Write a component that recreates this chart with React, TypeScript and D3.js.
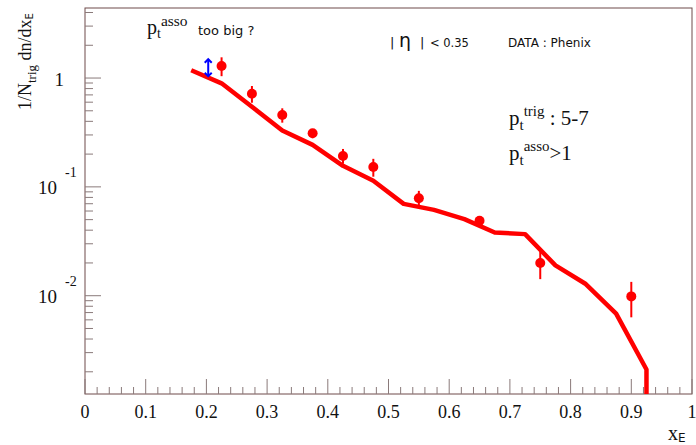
import {useEffect, useRef} from "react";
import * as d3 from "d3";

// data points (Phenix)
const pointX = [0.225, 0.275, 0.325, 0.375, 0.425, 0.475, 0.55, 0.65, 0.75, 0.9];
const pointY = [1.29, 0.718, 0.458, 0.311, 0.192, 0.152, 0.0787, 0.0488, 0.0200, 0.00986];
const errHigh = [1.55, 0.845, 0.527, 0.34, 0.223, 0.181, 0.0919, 0.054, 0.0254, 0.0134];
const errLow = [1.04, 0.593, 0.389, 0.28, 0.163, 0.124, 0.067, 0.044, 0.0142, 0.00633];

// model curve
const curveX = [0.175, 0.225, 0.275, 0.325, 0.375, 0.425, 0.475, 0.525, 0.575, 0.625, 0.675, 0.725, 0.775, 0.825, 0.875, 0.925, 0.925];
const curveY = [1.18, 0.894, 0.545, 0.329, 0.243, 0.156, 0.114, 0.0698, 0.0615, 0.0506, 0.0381, 0.0368, 0.0190, 0.0128, 0.00684, 0.0021, 0.0005];

// blue arrow
const arrowX = 0.203;
const arrowTop = 1.49;
const arrowBottom = 1.04;

const xTickLabels = ["0", "0.1", "0.2", "0.3", "0.4", "0.5", "0.6", "0.7", "0.8", "0.9", "1"];
const yDecades = [1, 0.1, 0.01];
const yDecadeLabels = [{base: "1", exp: ""}, {base: "10", exp: "-1"}, {base: "10", exp: "-2"}];

const SERIF = "'Liberation Serif', 'Times New Roman', serif";
const SANS = "'DejaVu Sans', sans-serif";

export default function App() {
    const svgRef = useRef<SVGSVGElement>(null);

    useEffect(() => {
        if (!svgRef.current) return;
        const svg = d3.select(svgRef.current);
        svg.selectAll("*").remove();

        const left = 85, right = 692, top = 8, bottom = 394;
        const x = d3.scaleLinear().domain([0, 1]).range([left, right]);
        const y = d3.scaleLog().domain([0.00125, 4.4]).range([bottom, top]);

        svg.append("defs").append("clipPath").attr("id", "plotclip")
            .append("rect").attr("x", left).attr("y", top).attr("width", right - left).attr("height", bottom - top);

        // frame
        svg.append("rect").attr("x", left).attr("y", top).attr("width", right - left).attr("height", bottom - top)
            .attr("fill", "none").attr("stroke", "#6e4a4a").attr("stroke-width", 1);

        // x ticks
        const tickCol = "#8a7a7a";
        d3.range(0, 1.0001, 0.02).forEach((v, i) => {
            const major = i % 5 === 0;
            svg.append("line").attr("x1", x(v)).attr("x2", x(v)).attr("y1", bottom).attr("y2", bottom - (major ? 15 : 7))
                .attr("stroke", tickCol).attr("stroke-width", 1);
        });
        xTickLabels.forEach((t, i) => {
            svg.append("text").attr("x", x(i / 10)).attr("y", 418).attr("text-anchor", "middle")
                .style("font-family", SERIF).style("font-size", "18px").attr("fill", "#111").text(t);
        });

        // y ticks
        const [ymin, ymax] = y.domain();
        [0.001, 0.01, 0.1, 1].forEach(d => {
            for (let k = 1; k <= 9; k++) {
                const v = k * d;
                if (v < ymin || v > ymax) continue;
                svg.append("line").attr("x1", left).attr("x2", left + (k === 1 ? 16 : 8)).attr("y1", y(v)).attr("y2", y(v))
                    .attr("stroke", tickCol).attr("stroke-width", 1);
            }
        });
        yDecades.forEach((v, i) => {
            const lab = yDecadeLabels[i];
            const t = svg.append("text").style("font-family", SERIF).attr("fill", "#111");
            if (lab.exp) {
                t.attr("x", 57).attr("y", y(v) + 7).attr("text-anchor", "end").style("font-size", "19px").text(lab.base);
                svg.append("text").attr("x", 65).attr("y", y(v) - 10).style("font-family", SERIF).style("font-size", "14px")
                    .attr("fill", "#111").text(lab.exp);
            } else {
                t.attr("x", 64).attr("y", y(v) + 8).attr("text-anchor", "end").style("font-size", "19px").text(lab.base);
            }
        });

        // axis titles
        const xt = svg.append("text").attr("x", 668).attr("y", 440).style("font-family", SERIF).style("font-size", "20px").attr("fill", "#111");
        xt.append("tspan").text("x");
        xt.append("tspan").attr("dy", 2).style("font-family", SANS).style("font-size", "12px").text("E");

        const yt = svg.append("text").attr("transform", "translate(31,110) rotate(-90)")
            .style("font-family", SERIF).style("font-size", "18px").attr("fill", "#111");
        yt.append("tspan").text("1/N");
        yt.append("tspan").attr("dy", 5).style("font-size", "13px").text("trig");
        yt.append("tspan").attr("dy", -5).text(" dn/dx");
        yt.append("tspan").attr("dy", 2).style("font-family", SANS).style("font-size", "10px").text("E");

        // curve
        const line = d3.line<number>().x((d, i) => x(curveX[i])).y(d => y(Math.max(d, 0.0005)));
        svg.append("path").datum(curveY).attr("d", line).attr("clip-path", "url(#plotclip)")
            .attr("fill", "none").attr("stroke", "#ff0000").attr("stroke-width", 4.5).attr("stroke-linejoin", "round");

        // error bars and points
        pointX.forEach((px, i) => {
            svg.append("line").attr("x1", x(px)).attr("x2", x(px)).attr("y1", y(errLow[i])).attr("y2", y(errHigh[i]))
                .attr("stroke", "#ff0000").attr("stroke-width", 2);
            svg.append("circle").attr("cx", x(px)).attr("cy", y(pointY[i])).attr("r", 5).attr("fill", "#ff0000");
        });

        // blue arrow
        const ax = x(arrowX), a1 = y(arrowTop), a2 = y(arrowBottom);
        const blue = svg.append("g").attr("stroke", "#0000ff").attr("stroke-width", 2).attr("fill", "none");
        blue.append("line").attr("x1", ax).attr("x2", ax).attr("y1", a1).attr("y2", a2);
        blue.append("path").attr("d", `M${ax - 3.5},${a1 + 3.5}L${ax},${a1}L${ax + 3.5},${a1 + 3.5}`);
        blue.append("path").attr("d", `M${ax - 3.5},${a2 - 3.5}L${ax},${a2}L${ax + 3.5},${a2 - 3.5}`);

        // annotations
        const t1 = svg.append("text").attr("x", 147).attr("y", 34).style("font-family", SERIF).style("font-size", "20px").attr("fill", "#111");
        t1.append("tspan").text("p");
        t1.append("tspan").attr("dy", 4).style("font-size", "14px").text("t");
        t1.append("tspan").attr("dy", -12).style("font-size", "15.5px").text("asso");
        svg.append("text").attr("x", 198).attr("y", 35).style("font-family", SANS).style("font-size", "13px").attr("fill", "#111").text("too big ?");

        svg.append("text").attr("x", 390).attr("y", 47).style("font-family", SANS).style("font-size", "13px").attr("fill", "#111").text("|");
        svg.append("text").attr("x", 399).attr("y", 47).style("font-family", SANS).style("font-size", "19px").attr("fill", "#111").text("η");
        svg.append("text").attr("x", 420).attr("y", 47).style("font-family", SANS).style("font-size", "13px").attr("fill", "#111").text("|");
        svg.append("text").attr("x", 430).attr("y", 47).style("font-family", SANS).style("font-size", "11.5px").attr("fill", "#111").text("< 0.35");
        svg.append("text").attr("x", 508).attr("y", 47).style("font-family", SANS).style("font-size", "12px").attr("fill", "#111").text("DATA : Phenix");

        const t2 = svg.append("text").attr("x", 509).attr("y", 125).style("font-family", SERIF).style("font-size", "21px").attr("fill", "#111");
        t2.append("tspan").text("p");
        t2.append("tspan").attr("dy", 5).style("font-size", "15px").text("t");
        t2.append("tspan").attr("dy", -14).style("font-size", "15px").text("trig");
        t2.append("tspan").attr("dy", 9).text(" : 5-7");

        const t3 = svg.append("text").attr("x", 509).attr("y", 160).style("font-family", SERIF).style("font-size", "21px").attr("fill", "#111");
        t3.append("tspan").text("p");
        t3.append("tspan").attr("dy", 5).style("font-size", "15px").text("t");
        t3.append("tspan").attr("dy", -14).style("font-size", "15px").text("asso");
        t3.append("tspan").attr("dy", 9).text(">1");
    }, []);

    return (
        <svg ref={svgRef} width={696} height={445} style={{position: "absolute", left: 0, top: 0, background: "#fff"}}></svg>
    );
}
